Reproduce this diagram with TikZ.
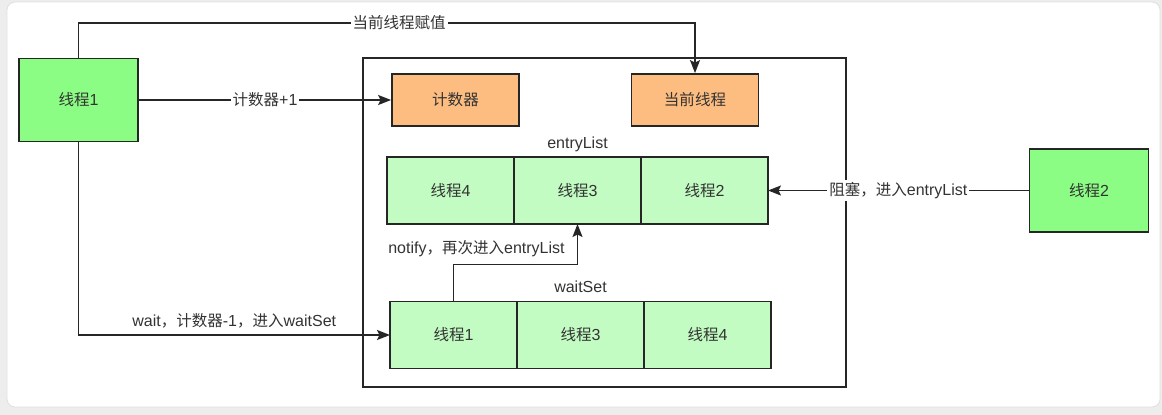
\documentclass[tikz,border=0pt]{standalone}
\usepackage{fontspec}
\setmainfont{Liberation Sans}
\newfontfamily\zh[Scale=0.97]{Noto Sans CJK SC}
\usetikzlibrary{arrows.meta}
\usetikzlibrary{positioning}

\definecolor{linecol}{HTML}{262626}
\definecolor{textcol}{HTML}{333333}
\definecolor{threadgreen}{HTML}{8CFD84}
\definecolor{cellgreen}{HTML}{C2FCC2}
\definecolor{counterorange}{HTML}{FDBD80}
\definecolor{pagegray}{HTML}{EDEDED}

\tikzset{
  box/.style={draw=linecol, line width=1.8pt, text=textcol, font=\fontsize{16pt}{19pt}\selectfont},
  thread/.style={box, fill=threadgreen, minimum width=119pt, minimum height=83pt},
  field/.style={box, fill=counterorange, minimum width=127pt, minimum height=52pt},
  cell/.style={box, fill=cellgreen, minimum width=127pt, minimum height=67pt, outer sep=0pt},
  tag/.style={text=textcol, font=\fontsize{16pt}{19pt}\selectfont, inner sep=2pt},
}

\begin{document}
\begin{tikzpicture}[x=1pt, y=-1pt, line width=1.8pt, draw=linecol, >={Stealth[length=13pt, width=10pt, inset=2.5pt]}]
    % page and card
    \fill[pagegray] (0,0) rectangle (1162,415);
    \useasboundingbox (0,0) rectangle (1162,415);
    \filldraw[fill=white, draw=black!12, line width=0.8pt, rounded corners=8pt] (7,2) rectangle (1160,407);

    % monitor
    \node[draw=linecol, line width=1.8pt, minimum width=483pt, minimum height=329pt] (monitor) at (604.5,222.5) {};
    \node[field] (counter) at (455.5,100) {\zh 计数器};
    \node[field] (owner) at (695,100) {\zh 当前线程};

    \node[cell] (entry4) at (450.5,190.5) {{\zh 线程}4};
    \node[cell, right=0pt of entry4] (entry3) {{\zh 线程}3};
    \node[cell, right=0pt of entry3] (entry2) {{\zh 线程}2};
    \node[tag, above=2pt of entry3] (entrylabel) {entryList};

    \node[cell] (wait1) at (453.5,335) {{\zh 线程}1};
    \node[cell, right=0pt of wait1] (wait3) {{\zh 线程}3};
    \node[cell, right=0pt of wait3] (wait4) {{\zh 线程}4};
    \node[tag, above=6pt of wait3] (waitlabel) {waitSet};

    % threads
    \node[thread] (thread1) at (78.5,100) {{\zh 线程}1};
    \node[thread] (thread2) at (1089,190.5) {{\zh 线程}2};

    \draw[->] (thread1.north) -- ++(0,-35) -| (owner.north) node[tag, pos=0.26, fill=white] {\zh 当前线程赋值};
    \draw[->] (thread1) -- (counter) node[tag, midway, fill=white] {{\zh 计数器}+1};
    \draw[->] (thread1.south) |- (wait1.west) node[tag, pos=0.75, above=4pt] {wait{\zh ，计数器}-1{\zh ，进入}waitSet};
    \draw[->] (thread2) -- (entry2) node[tag, midway, fill=white] {{\zh 阻塞，进入}entryList};
    \draw[->] (wait1.north) -- ++(0,-37) -| (entry3.south) node[tag, pos=0.7, left=10pt] {notify{\zh ，再次进入}entryList};
\end{tikzpicture}
\end{document}
